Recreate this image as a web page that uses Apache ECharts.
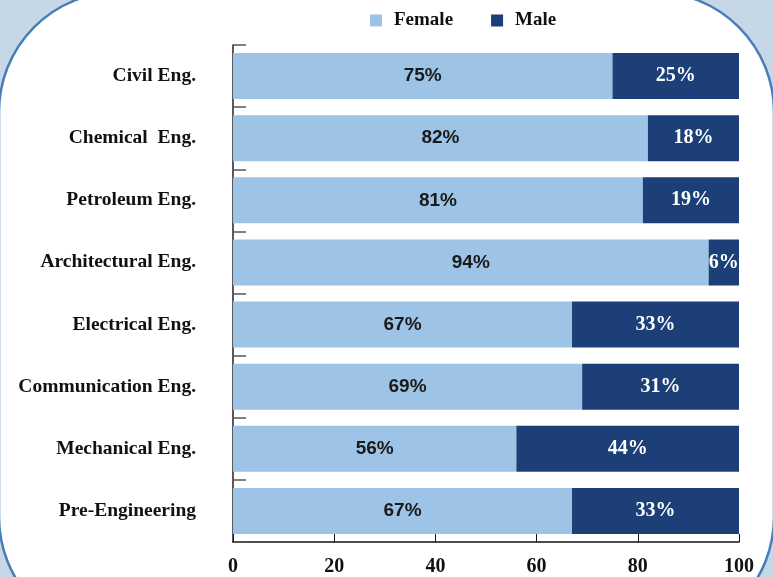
<!DOCTYPE html>
<html>
<head>
<meta charset="utf-8">
<script src="https://cdn.jsdelivr.net/npm/echarts@6/dist/echarts.min.js"></script>
<style>
html, body { margin: 0; padding: 0; background: #c6d7e8; }
#main { width: 773px; height: 577px; }
</style>
</head>
<body>
<div id="main"></div>
<script>
// 专业名称（从上到下）
var categories = ['Civil Eng.', 'Chemical  Eng.', 'Petroleum Eng.', 'Architectural Eng.',
	'Electrical Eng.', 'Communication Eng.', 'Mechanical Eng.', 'Pre-Engineering'];
var femaleData = [75, 82, 81, 94, 67, 69, 56, 67];
var maleData = [25, 18, 19, 6, 33, 31, 44, 33];
var xTicks = [0, 20, 40, 60, 80, 100];

var myChart = echarts.init(document.getElementById('main'));

var serif = '"Liberation Serif", "DejaVu Serif", serif';
var sans = '"Liberation Sans", Arial, sans-serif';

option = {
	backgroundColor: '#c6d7e8',
	animation: false,
	graphic: [{
		type: 'rect',
		z: -10,
		shape: { x: -1, y: -8, width: 775, height: 645, r: 120 },
		style: { fill: '#ffffff', stroke: '#4a7db5', lineWidth: 2.5 }
	}],
	legend: {
		top: 6,
		left: 365,
		itemWidth: 12,
		itemHeight: 12,
		itemGap: 38,
		icon: 'rect',
		textStyle: { fontFamily: serif, fontWeight: 'bold', fontSize: 19, color: '#111', padding: [0, 0, 0, 7] },
		data: ['Female', 'Male']
	},
	grid: {
		left: 233,
		right: 34,
		top: 45,
		bottom: 35
	},
	xAxis: {
		type: 'value',
		min: 0,
		max: 100,
		interval: 20,
		splitLine: { show: false },
		axisLine: { show: true, lineStyle: { color: '#111', width: 1.5 } },
		axisTick: { show: true, inside: true, length: 8, lineStyle: { color: '#111' } },
		axisLabel: {
			margin: 15,
			fontFamily: serif,
			fontWeight: 'bold',
			fontSize: 20,
			color: '#111',
			formatter: function (v) {
				return xTicks.indexOf(v) >= 0 ? String(v) : '';
			}
		}
	},
	yAxis: {
		type: 'category',
		inverse: true,
		data: categories,
		axisLine: { show: true, lineStyle: { color: '#222', width: 1.5 } },
		axisTick: { show: true, inside: true, length: 13, lineStyle: { color: '#555', width: 1.5 } },
		axisLabel: {
			margin: 37,
			fontFamily: serif,
			fontWeight: 'bold',
			fontSize: 19.5,
			color: '#111'
		}
	},
	series: [{
		name: 'Female',
		type: 'bar',
		stack: 'total',
		barCategoryGap: '26%',
		data: femaleData,
		itemStyle: { color: '#9dc3e6' },
		label: {
			show: true,
			position: 'inside',
			formatter: '{c}%',
			fontFamily: sans,
			fontWeight: 'bold',
			fontSize: 19,
			color: '#1a1a1a'
		}
	}, {
		name: 'Male',
		type: 'bar',
		stack: 'total',
		barCategoryGap: '26%',
		data: maleData,
		itemStyle: { color: '#1b3f76' },
		label: {
			show: true,
			position: 'inside',
			formatter: '{c}%',
			fontFamily: serif,
			fontWeight: 'bold',
			fontSize: 20,
			color: '#ffffff'
		}
	}]
};
myChart.setOption(option);
</script>
</body>
</html>
